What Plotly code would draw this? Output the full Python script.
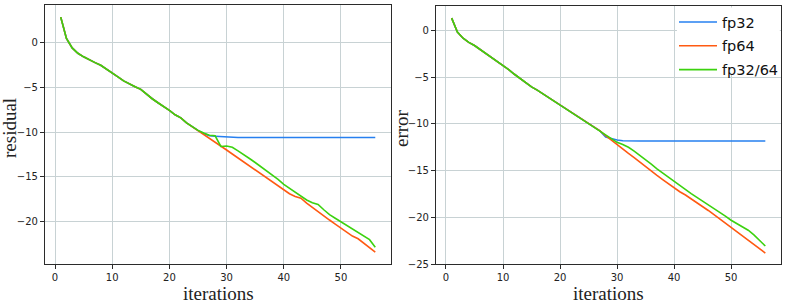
import plotly.graph_objects as go

iterations = list(range(1, 57))

# residual panel (left)
residual_fp32 = [2.9, 0.5, -0.55, -1.15, -1.55, -1.9, -2.2, -2.5, -2.9, -3.35,
                 -3.8, -4.25, -4.6, -4.9, -5.2, -5.75, -6.25, -6.7, -7.1, -7.55,
                 -8.05, -8.4, -8.95, -9.4, -9.8, -10.15, -10.4, -10.45, -10.5, -10.55,
                 -10.6, -10.6, -10.6, -10.6, -10.6, -10.6, -10.6, -10.6, -10.6, -10.6,
                 -10.6, -10.6, -10.6, -10.6, -10.6, -10.6, -10.6, -10.6, -10.6, -10.6,
                 -10.6, -10.6, -10.6, -10.6, -10.6, -10.6]
residual_fp64 = [2.9, 0.5, -0.55, -1.15, -1.55, -1.9, -2.2, -2.5, -2.9, -3.35,
                 -3.8, -4.25, -4.6, -4.9, -5.2, -5.75, -6.25, -6.7, -7.1, -7.55,
                 -8.05, -8.4, -8.95, -9.4, -9.8, -10.25, -10.7, -11.15, -11.6, -12.0,
                 -12.45, -12.9, -13.35, -13.8, -14.25, -14.7, -15.15, -15.6, -16.05, -16.5,
                 -16.9, -17.2, -17.4, -17.95, -18.45, -18.95, -19.4, -19.85, -20.3, -20.75,
                 -21.2, -21.65, -21.95, -22.45, -22.95, -23.45]
residual_mixed = [2.9, 0.5, -0.55, -1.15, -1.55, -1.9, -2.2, -2.5, -2.9, -3.35,
                  -3.8, -4.25, -4.6, -4.9, -5.2, -5.75, -6.25, -6.7, -7.1, -7.55,
                  -8.05, -8.4, -8.95, -9.4, -9.8, -10.1, -10.35, -10.4, -11.6, -11.55,
                  -11.7, -12.1, -12.5, -12.95, -13.4, -13.85, -14.3, -14.8, -15.3, -15.85,
                  -16.3, -16.75, -17.2, -17.6, -17.9, -18.1, -18.7, -19.25, -19.65, -20.05,
                  -20.5, -20.9, -21.25, -21.6, -22.05, -22.9]

# error panel (right)
error_fp32 = [1.3, -0.2, -0.85, -1.3, -1.63, -2.05, -2.5, -2.9, -3.35, -3.76,
              -4.2, -4.7, -5.15, -5.6, -6.05, -6.4, -6.8, -7.2, -7.55, -7.95,
              -8.4, -8.8, -9.2, -9.6, -9.95, -10.35, -10.75, -11.4, -11.6, -11.72,
              -11.8, -11.83, -11.83, -11.83, -11.83, -11.83, -11.83, -11.83, -11.83, -11.83,
              -11.83, -11.83, -11.83, -11.83, -11.83, -11.83, -11.83, -11.83, -11.83, -11.83,
              -11.83, -11.83, -11.83, -11.83, -11.83, -11.83]
error_fp64 = [1.3, -0.2, -0.85, -1.3, -1.63, -2.05, -2.5, -2.9, -3.35, -3.76,
              -4.2, -4.7, -5.15, -5.6, -6.05, -6.4, -6.8, -7.2, -7.55, -7.95,
              -8.4, -8.8, -9.2, -9.6, -9.95, -10.35, -10.75, -11.25, -11.75, -12.22,
              -12.7, -13.15, -13.6, -14.1, -14.55, -15.0, -15.5, -15.95, -16.4, -16.8,
              -17.25, -17.6, -18.0, -18.4, -18.8, -19.25, -19.7, -20.15, -20.6, -21.1,
              -21.55, -22.0, -22.45, -22.9, -23.35, -23.8]
error_mixed = [1.3, -0.2, -0.85, -1.3, -1.63, -2.05, -2.5, -2.9, -3.35, -3.76,
               -4.2, -4.7, -5.15, -5.6, -6.05, -6.4, -6.8, -7.2, -7.55, -7.95,
               -8.4, -8.8, -9.2, -9.6, -9.95, -10.35, -10.75, -11.2, -11.6, -11.97,
               -12.2, -12.5, -12.9, -13.35, -13.84, -14.3, -14.8, -15.25, -15.7, -16.16,
               -16.6, -17.05, -17.45, -17.85, -18.24, -18.65, -19.05, -19.45, -19.85, -20.29,
               -20.65, -21.0, -21.36, -21.85, -22.45, -23.05]

series_names = ["fp32", "fp64", "fp32/64"]
series_colors = ["#2680f0", "#ff5a12", "#3cd20f"]

x_ticks = [0, 10, 20, 30, 40, 50]
left_y_ticks = [-20, -15, -10, -5, 0]
right_y_ticks = [-25, -20, -15, -10, -5, 0]

W, H = 785, 307
fig = go.Figure()

left_data = [residual_fp32, residual_fp64, residual_mixed]
right_data = [error_fp32, error_fp64, error_mixed]
for name, color, ys in zip(series_names, series_colors, left_data):
    fig.add_trace(go.Scatter(x=iterations, y=ys, mode="lines", name=name,
                             line=dict(color=color, width=1.6), showlegend=False,
                             xaxis="x", yaxis="y"))
for name, color, ys in zip(series_names, series_colors, right_data):
    fig.add_trace(go.Scatter(x=iterations, y=ys, mode="lines", name=name,
                             legendgroup=name,
                             line=dict(color=color, width=1.6), showlegend=True,
                             xaxis="x2", yaxis="y2"))

axis_common = dict(showgrid=True, gridcolor="#c8d2d4", gridwidth=1,
                   showline=True, linecolor="#2b2b2b", linewidth=1.2, mirror=True,
                   ticks="outside", ticklen=4, tickwidth=1, tickcolor="#2b2b2b",
                   zeroline=False, automargin=False,
                   tickfont=dict(family="DejaVu Sans", size=10, color="#222222"))

fig.update_layout(
    width=W, height=H,
    margin=dict(l=0, r=0, t=0, b=0, pad=0, autoexpand=False),
    paper_bgcolor="white", plot_bgcolor="white",
    xaxis=dict(domain=[45 / W, 391 / W], range=[-1.75, 58.75], tickvals=x_ticks,
               anchor="y", **axis_common),
    yaxis=dict(domain=[43 / H, 302 / H], range=[-24.78, 4.26], tickvals=left_y_ticks,
               anchor="x", **axis_common),
    xaxis2=dict(domain=[436 / W, 781 / W], range=[-1.75, 58.75], tickvals=x_ticks,
                anchor="y2", **axis_common),
    yaxis2=dict(domain=[42.7 / H, 300.7 / H], range=[-25.0, 2.56], tickvals=right_y_ticks,
                anchor="x2", **axis_common),
    legend=dict(x=674 / W, y=1 - 6 / H, xanchor="left", yanchor="top",
                bgcolor="rgba(255,255,255,0)", borderwidth=0, tracegroupgap=2,
                traceorder="grouped", itemwidth=38,
                font=dict(family="DejaVu Sans", size=14.5, color="#111111")),
)

# white legend panel (hides gridlines behind the legend, like the reference)
fig.add_shape(type="rect", xref="paper", yref="paper",
              x0=677 / W, x1=779.8 / W, y0=1 - 74 / H, y1=1 - 7.5 / H,
              fillcolor="white", line=dict(width=0), layer="above")

label_font = dict(family="Liberation Serif", size=19, color="#222222")
fig.add_annotation(text="iterations", x=(45 + 391) / 2 / W, y=(H - 293) / H,
                   xref="paper", yref="paper", showarrow=False, font=label_font,
                   xanchor="center", yanchor="middle")
fig.add_annotation(text="iterations", x=(436 + 781) / 2 / W, y=(H - 293) / H,
                   xref="paper", yref="paper", showarrow=False, font=label_font,
                   xanchor="center", yanchor="middle")
fig.add_annotation(text="residual", x=10 / W, y=(H - 128) / H, textangle=-90,
                   xref="paper", yref="paper", showarrow=False, font=label_font,
                   xanchor="center", yanchor="middle")
fig.add_annotation(text="error", x=402 / W, y=(H - 128) / H, textangle=-90,
                   xref="paper", yref="paper", showarrow=False, font=label_font,
                   xanchor="center", yanchor="middle")

fig.write_html("out.html", config={"displayModeBar": False},
               post_script="document.body.style.margin='0px';")
